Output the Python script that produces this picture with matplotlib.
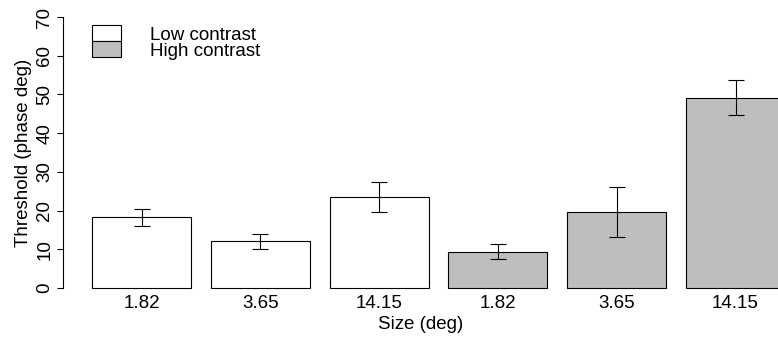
import matplotlib
matplotlib.use("Agg")
import matplotlib.pyplot as plt
from matplotlib.patches import Rectangle

# Threshold data: three sizes at low contrast, then the same three at high contrast
size_labels = ["1.82", "3.65", "14.15", "1.82", "3.65", "14.15"]
contrast = ["Low", "Low", "Low", "High", "High", "High"]
threshold = [18.3, 12.1, 23.4, 9.4, 19.6, 49.2]
err_low = [16.1, 10.0, 19.5, 7.4, 13.1, 44.6]
err_high = [20.3, 13.9, 27.5, 11.4, 26.1, 53.7]
legend_labels = ["Low contrast", "High contrast"]
legend_keys = ["Low", "High"]

fill_colors = {"Low": "white", "High": "#BEBEBE"}

plt.rcParams["font.family"] = ["Liberation Sans", "DejaVu Sans"]
FS = 13.5
LW = 0.8

W, H = 778, 342
fig = plt.figure(figsize=(W / 100, H / 100), dpi=100)

# plot region in pixels
left_px, right_px = 63, 778
top_px, bottom_px = 6.2, 298.8
ax_w, ax_h = right_px - left_px, bottom_px - top_px
ax = fig.add_axes([left_px / W, (H - bottom_px) / H, ax_w / W, ax_h / H])


def px_to_axes(px, py):
    return (px - left_px) / ax_w, (bottom_px - py) / ax_h


# bar layout: width 1, gap 0.2
x = [0.7 + 1.2 * i for i in range(len(threshold))]
colors = [fill_colors[c] for c in contrast]
ax.bar(x, threshold, width=1.0, color=colors, edgecolor="black",
       linewidth=LW, zorder=2)

yerr = [[t - lo for t, lo in zip(threshold, err_low)],
        [hi - t for t, hi in zip(threshold, err_high)]]
ax.errorbar(x, threshold, yerr=yerr, fmt="none", ecolor="black",
            elinewidth=LW, capsize=5.8, capthick=LW, zorder=3)

ax.set_xlim(-0.093, (right_px - 72.2) / 99)
ax.set_ylim(-2.8, 72.8)

for s in ["top", "right", "bottom"]:
    ax.spines[s].set_visible(False)
ax.spines["left"].set_bounds(0, 70)
ax.spines["left"].set_linewidth(LW)

ax.set_yticks(range(0, 71, 10))
ax.set_yticklabels([str(v) for v in range(0, 71, 10)], rotation=90,
                   va="center", fontsize=FS)
ax.tick_params(axis="y", length=4.5, width=LW, pad=2.5)

ax.set_xticks(x)
ax.set_xticklabels(size_labels, fontsize=FS)
ax.tick_params(axis="x", length=0, pad=-3)

ax.set_xlabel("Size (deg)", fontsize=FS, labelpad=3)
ax.set_ylabel("Threshold (phase deg)", fontsize=FS, labelpad=3)

# legend: stacked fill boxes with labels, no frame
box_l, box_r = 92, 121
box_tops = [25, 41]
box_h = 16
for key, label, btop in zip(legend_keys, legend_labels, box_tops):
    x0, y0 = px_to_axes(box_l, btop + box_h)
    ax.add_patch(Rectangle((x0, y0), (box_r - box_l) / ax_w, box_h / ax_h,
                           transform=ax.transAxes, facecolor=fill_colors[key],
                           edgecolor="black", linewidth=LW, clip_on=False,
                           zorder=4))
    tx, ty = px_to_axes(150, btop + box_h - 0.5)
    ax.text(tx, ty, label, transform=ax.transAxes, fontsize=FS,
            ha="left", va="baseline")

fig.savefig("out.png", dpi=100)
